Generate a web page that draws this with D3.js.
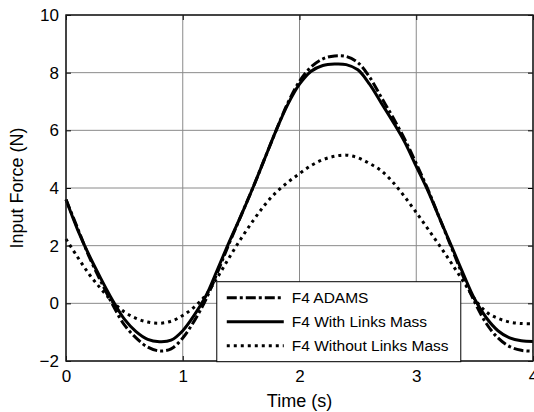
<!DOCTYPE html>
<html>
<head>
<meta charset="utf-8">
<script src="https://cdn.jsdelivr.net/npm/d3@7"></script>
<style>
  body { margin: 0; background: #fff; }
  svg { display: block; font-family: "Liberation Sans", Arial, sans-serif; }
</style>
</head>
<body>
<div id="chart"></div>
<script>
// time samples (s)
const time = [0.0, 0.1, 0.2, 0.3, 0.4, 0.5, 0.6, 0.7, 0.8, 0.9,
  1.0, 1.1, 1.2, 1.3, 1.4, 1.5, 1.6, 1.7, 1.8, 1.9,
  2.0, 2.1, 2.2, 2.3, 2.4, 2.5, 2.6, 2.7, 2.8, 2.9,
  3.0, 3.1, 3.2, 3.3, 3.4, 3.5, 3.6, 3.7, 3.8, 3.9, 4.0];

// F4 ADAMS
const adams = [3.6, 2.6, 1.6, 0.75, -0.05, -0.75, -1.2, -1.52, -1.65, -1.58,
  -1.2, -0.6, 0.15, 1.1, 2.1, 3.05, 4.0, 5.0, 6.0, 6.95,
  7.7, 8.2, 8.48, 8.58, 8.56, 8.35, 7.85, 7.15, 6.45, 5.7,
  4.85, 3.95, 2.95, 1.95, 0.95, 0.05, -0.7, -1.2, -1.5, -1.63, -1.66];

// F4 With Links Mass
const withMass = [3.6, 2.55, 1.65, 0.85, 0.1, -0.55, -0.98, -1.25, -1.33, -1.28,
  -0.95, -0.4, 0.27, 1.2, 2.15, 3.05, 4.0, 5.0, 6.0, 6.9,
  7.6, 8.05, 8.25, 8.3, 8.28, 8.1, 7.6, 6.95, 6.3, 5.6,
  4.75, 3.9, 2.95, 2.0, 1.05, 0.15, -0.5, -0.95, -1.2, -1.3, -1.32];

// F4 Without Links Mass
const withoutMass = [2.23, 1.6, 1.0, 0.5, 0.05, -0.3, -0.52, -0.65, -0.69, -0.62,
  -0.42, -0.12, 0.3, 0.92, 1.6, 2.25, 2.85, 3.4, 3.85, 4.2,
  4.5, 4.78, 4.98, 5.1, 5.14, 5.05, 4.85, 4.6, 4.2, 3.7,
  3.15, 2.58, 2.0, 1.4, 0.78, 0.15, -0.3, -0.52, -0.65, -0.7, -0.71];

const xTicks = [0, 1, 2, 3, 4];
const yTicks = [-2, 0, 2, 4, 6, 8, 10];
const seriesNames = ["F4 ADAMS", "F4 With Links Mass", "F4 Without Links Mass"];

const W = 534, H = 412;
const margin = { top: 15, right: 1, bottom: 51, left: 66 };
const width = W - margin.left - margin.right;
const height = H - margin.top - margin.bottom;

const x = d3.scaleLinear().domain([0, 4]).range([0, width]);
const y = d3.scaleLinear().domain([-2, 10]).range([height, 0]);

const svg = d3.select("#chart").append("svg")
  .attr("width", W)
  .attr("height", H);

const g = svg.append("g")
  .attr("transform", "translate(" + margin.left + "," + margin.top + ")");

// grid lines
g.append("g").selectAll("line")
  .data(xTicks)
  .enter().append("line")
  .attr("x1", d => x(d)).attr("x2", d => x(d))
  .attr("y1", 0).attr("y2", height)
  .attr("stroke", "#8a8a8a").attr("stroke-width", 1);

g.append("g").selectAll("line")
  .data(yTicks)
  .enter().append("line")
  .attr("x1", 0).attr("x2", width)
  .attr("y1", d => y(d)).attr("y2", d => y(d))
  .attr("stroke", "#8a8a8a").attr("stroke-width", 1);

// curves
const series = [
  { values: adams, dash: "10,3,3,3" },
  { values: withMass, dash: null },
  { values: withoutMass, dash: "3,4" }
];

const line = d3.line()
  .x(d => x(d[0]))
  .y(d => y(d[1]))
  .curve(d3.curveCatmullRom);

series.forEach(function (s) {
  g.append("path")
    .datum(time.map((t, i) => [t, s.values[i]]))
    .attr("d", line)
    .attr("fill", "none")
    .attr("stroke", "#000")
    .attr("stroke-width", 3)
    .attr("stroke-dasharray", s.dash);
});

// axes with inward ticks on all sides
function styleAxis(sel) {
  sel.select(".domain").remove();
  sel.selectAll(".tick line").attr("stroke", "#000");
  sel.selectAll("text")
    .attr("fill", "#000")
    .style("font-size", "17px");
}

g.append("g")
  .attr("transform", "translate(0," + height + ")")
  .call(d3.axisBottom(x).tickValues(xTicks).tickSize(-5).tickPadding(9).tickFormat(d3.format("d")))
  .call(styleAxis);

g.append("g")
  .call(d3.axisTop(x).tickValues(xTicks).tickSize(-5).tickFormat(""))
  .call(styleAxis);

g.append("g")
  .call(d3.axisLeft(y).tickValues(yTicks).tickSize(-5).tickPadding(7).tickFormat(d3.format("d")))
  .call(styleAxis);

g.append("g")
  .attr("transform", "translate(" + width + ",0)")
  .call(d3.axisRight(y).tickValues(yTicks).tickSize(-5).tickFormat(""))
  .call(styleAxis);

// box
g.append("rect")
  .attr("width", width)
  .attr("height", height)
  .attr("fill", "none")
  .attr("stroke", "#1a1a1a")
  .attr("stroke-width", 1.5);

// axis labels
svg.append("text")
  .attr("x", margin.left + width / 2)
  .attr("y", H - 5)
  .attr("text-anchor", "middle")
  .style("font-size", "18px")
  .text("Time (s)");

svg.append("text")
  .attr("transform", "rotate(-90)")
  .attr("x", -(margin.top + height / 2))
  .attr("y", 23)
  .attr("text-anchor", "middle")
  .style("font-size", "18px")
  .text("Input Force (N)");

// legend
const legend = g.append("g")
  .attr("transform", "translate(" + (x(1.3) - 1) + "," + y(0.75) + ")");

legend.append("rect")
  .attr("width", 244)
  .attr("height", 80)
  .attr("fill", "#fff")
  .attr("stroke", "#000")
  .attr("stroke-width", 1);

series.forEach(function (s, i) {
  const yy = 16 + i * 24;
  legend.append("line")
    .attr("x1", 10).attr("x2", 67)
    .attr("y1", yy).attr("y2", yy)
    .attr("stroke", "#000")
    .attr("stroke-width", 3)
    .attr("stroke-dasharray", s.dash);
  legend.append("text")
    .attr("x", 75)
    .attr("y", yy)
    .attr("dy", "0.36em")
    .style("font-size", "15.5px")
    .text(seriesNames[i]);
});
</script>
</body>
</html>
